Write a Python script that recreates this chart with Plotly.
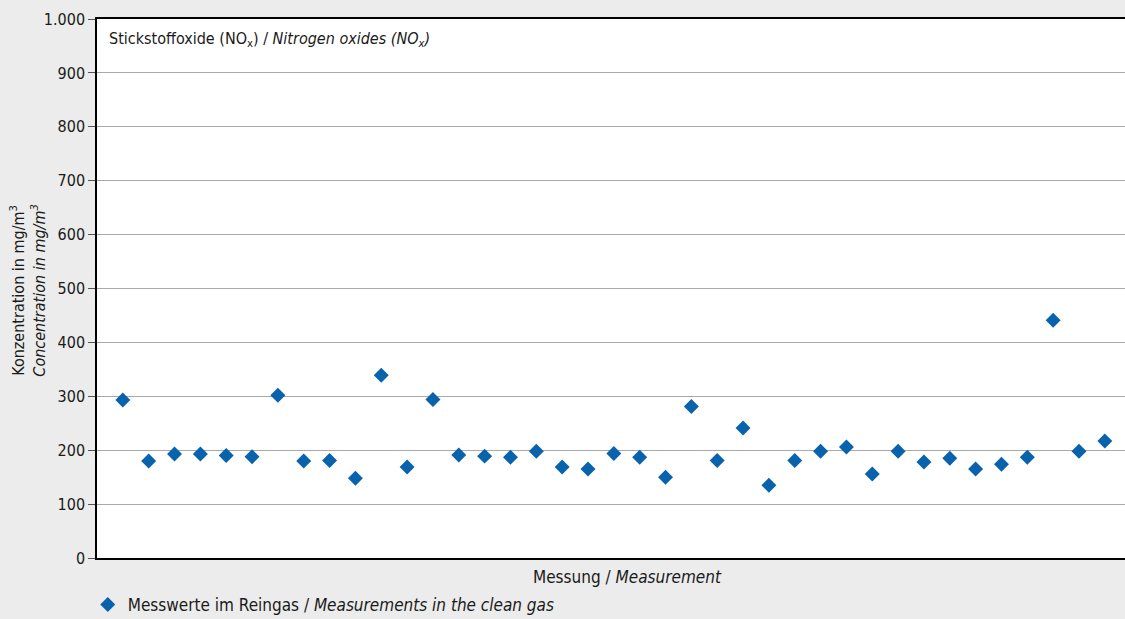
import plotly.graph_objects as go

measurement = list(range(1, 40))
nox_values = [293, 180, 193, 193, 190, 188, 302, 180, 181, 148,
              339, 169, 294, 191, 189, 187, 198, 169, 165, 194,
              187, 150, 281, 181, 241, 135, 181, 198, 206, 156,
              198, 178, 185, 165, 174, 187, 441, 198, 217]
y_ticks = [0, 100, 200, 300, 400, 500, 600, 700, 800, 900, 1000]

FONT = "Liberation Sans Narrow, DejaVu Sans Condensed, Arial Narrow, sans-serif"
BG = "#ebeceb"
BLUE = "#0862ac"

fig = go.Figure()
fig.add_trace(go.Scatter(
    x=measurement, y=nox_values, mode="markers",
    name="Messwerte im Reingas / <i>Measurements in the clean gas</i>",
    marker=dict(symbol="diamond", size=11.5, color=BLUE),
))

fig.update_layout(
    width=1125, height=619,
    paper_bgcolor=BG, plot_bgcolor="white",
    margin=dict(l=97, r=0, t=19, b=61, autoexpand=False),
    separators=",.",
    font=dict(family=FONT, size=16, color="#1a1a1a"),
    showlegend=True,
    legend=dict(orientation="h", x=-0.009, xanchor="left", y=-0.087, yanchor="middle",
                bgcolor="rgba(0,0,0,0)", font=dict(size=17)),
    xaxis=dict(range=[0, 39.78], showticklabels=False, ticks="", showgrid=False,
               zeroline=False, showline=True, linecolor="black", linewidth=1.5, mirror=True),
    yaxis=dict(range=[0, 1000], tickvals=y_ticks, tickformat=",d",
               showgrid=True, gridcolor="#a9a9a9", gridwidth=1.3,
               zeroline=False, showline=True, linecolor="black", linewidth=1.5,
               ticks="outside", ticklen=7, tickcolor="#555555", tickwidth=1,
               tickfont=dict(size=16)),
    annotations=[
        dict(text="Konzentration in mg/m<sup>3</sup><br><i>Concentration in mg/m<sup>3</sup></i>",
             xref="paper", yref="paper", x=-0.0666, y=0.497, xanchor="center", yanchor="middle",
             textangle=-90, showarrow=False, font=dict(size=16)),
        dict(text="Stickstoffoxide (NO<sub>x</sub>) / <i>Nitrogen oxides (NO<sub>x</sub>)</i>",
             xref="paper", yref="paper", x=0.01, y=0.985, xanchor="left", yanchor="top",
             showarrow=False, font=dict(size=16)),
        dict(text="Messung / <i>Measurement</i>",
             xref="paper", yref="paper", x=0.5165, y=-0.035, xanchor="center", yanchor="middle",
             showarrow=False, font=dict(size=17)),
    ],
)

fig.write_html("out.html", config={"displayModeBar": False},
               post_script="document.body.style.margin='0';document.body.style.padding='0';")
